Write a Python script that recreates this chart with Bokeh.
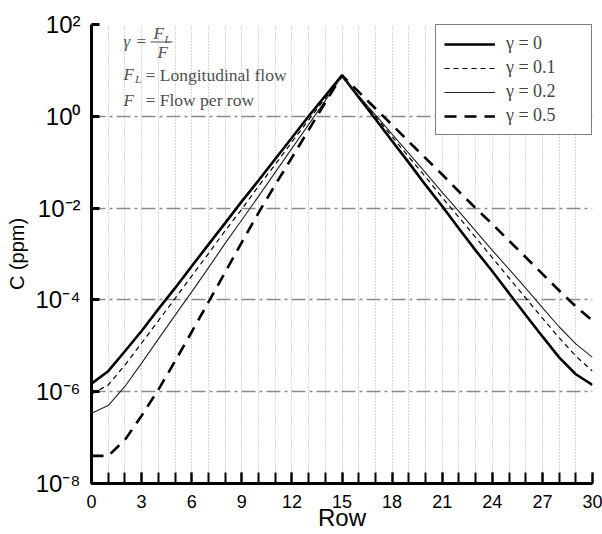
from bokeh.plotting import figure
from bokeh.models import FixedTicker, CustomJSTickFormatter, Legend, LegendItem, Range1d
from bokeh.core.properties import value
from bokeh.embed import file_html
from bokeh.resources import INLINE

# ---- data ----
rows = list(range(31))
c_gamma_0 = [1.5e-6, 2.8e-6, 7.6e-6, 2.1e-5, 6.3e-5, 1.8e-4, 5.4e-4, 1.6e-3, 4.7e-3, 1.4e-2,
             4.0e-2, 0.117, 0.34, 1.0, 2.8, 7.8,
             2.6, 0.87, 0.29, 0.098, 0.032, 0.011, 3.6e-3, 1.2e-3, 4.2e-4, 1.4e-4,
             4.7e-5, 1.6e-5, 5.6e-6, 2.4e-6, 1.4e-6]
c_gamma_01 = [8.9e-7, 1.4e-6, 3.8e-6, 1.15e-5, 3.5e-5, 1.07e-4, 3.3e-4, 1.02e-3, 3.2e-3, 9.5e-3,
              0.030, 0.089, 0.275, 0.83, 2.5, 7.7,
              2.75, 1.0, 0.36, 0.13, 0.048, 0.017, 6.3e-3, 2.3e-3, 8.3e-4, 3.0e-4,
              1.1e-4, 4.0e-5, 1.5e-5, 6.0e-6, 2.8e-6]
c_gamma_02 = [3.4e-7, 5.0e-7, 1.3e-6, 4.2e-6, 1.4e-5, 4.6e-5, 1.5e-4, 5.0e-4, 1.7e-3, 5.5e-3,
              0.018, 0.060, 0.20, 0.66, 2.2, 7.6,
              2.8, 1.07, 0.41, 0.155, 0.059, 0.022, 8.5e-3, 3.2e-3, 1.2e-3, 4.7e-4,
              1.8e-4, 6.8e-5, 2.6e-5, 1.1e-5, 5.6e-6]
c_gamma_05 = [4.0e-8, 4.0e-8, 8.9e-8, 3.0e-7, 1.1e-6, 4.6e-6, 2.0e-5, 8.9e-5, 4.0e-4, 1.8e-3,
              7.9e-3, 0.032, 0.126, 0.50, 2.0, 7.8,
              3.4, 1.48, 0.65, 0.28, 0.123, 0.054, 0.023, 0.010, 4.5e-3, 1.95e-3,
              8.5e-4, 3.7e-4, 1.6e-4, 7.2e-5, 3.5e-5]
series_labels = ["\u03b3 = 0", "\u03b3 = 0.1", "\u03b3 = 0.2", "\u03b3 = 0.5"]
x_major_ticks = [0, 3, 6, 9, 12, 15, 18, 21, 24, 27, 30]
y_major_ticks = [1e-8, 1e-6, 1e-4, 1e-2, 1e0, 1e2]

p = figure(width=602, height=534, y_axis_type="log",
           x_range=Range1d(0, 30), y_range=Range1d(1e-8, 1e2),
           output_backend="svg", toolbar_location=None, tools="",
           min_border_left=91, min_border_right=10, min_border_top=24, min_border_bottom=51)
p.outline_line_color = None
p.background_fill_color = "white"
p.border_fill_color = "white"

# grids
p.ygrid.grid_line_color = "#8a8a8a"
p.ygrid.grid_line_width = 1.3
p.ygrid.grid_line_dash = "14 4 3 4"
p.xgrid.ticker = FixedTicker(ticks=list(range(1, 31)))
p.xgrid.grid_line_color = "#b0b0b0"
p.xgrid.grid_line_width = 1
p.xgrid.grid_line_dash = "1 2"

# x axis
xa = p.xaxis[0]
xa.ticker = FixedTicker(ticks=x_major_ticks, minor_ticks=rows)
xa.axis_line_width = 3
xa.major_tick_in = 11
xa.major_tick_out = 0
xa.minor_tick_in = 11
xa.minor_tick_out = 0
xa.major_tick_line_width = 2
xa.minor_tick_line_width = 2
xa.major_label_text_font = "Liberation Sans"
xa.major_label_text_font_size = "18px"
xa.major_label_text_color = "black"
xa.major_label_standoff = 11
xa.axis_label = "Row"
xa.axis_label_text_font = "Liberation Sans"
xa.axis_label_text_font_size = "24px"
xa.axis_label_text_font_style = "normal"
xa.axis_label_text_color = "black"
xa.axis_label_standoff = -7

# y axis
ya = p.yaxis[0]
ya.ticker = FixedTicker(ticks=y_major_ticks, minor_ticks=[])
ya.formatter = CustomJSTickFormatter(code="""
const e = Math.round(Math.log10(tick));
const sup = {'-':'\u207b','0':'\u2070','1':'\u00b9','2':'\u00b2','3':'\u00b3','4':'\u2074',
             '5':'\u2075','6':'\u2076','7':'\u2077','8':'\u2078','9':'\u2079'};
return '10' + String(e).split('').map(c => sup[c]).join('');
""")
ya.axis_line_width = 3
ya.major_tick_in = 8
ya.major_tick_out = 0
ya.minor_tick_in = 0
ya.minor_tick_out = 0
ya.major_tick_line_width = 3
ya.major_label_text_font = "Liberation Sans"
ya.major_label_text_font_size = "24px"
ya.major_label_text_color = "black"
ya.major_label_standoff = 11
ya.axis_label = "C (ppm)"
ya.axis_label_text_font = "Liberation Sans"
ya.axis_label_text_font_size = "20px"
ya.axis_label_text_font_style = "normal"
ya.axis_label_text_color = "black"
ya.axis_label_standoff = 4

# curves
r0 = p.line(rows, c_gamma_0, line_color="black", line_width=2.6)
r1 = p.line(rows, c_gamma_01, line_color="black", line_width=1.2, line_dash="5 4")
r2 = p.line(rows, c_gamma_02, line_color="#222222", line_width=1.1)
r5 = p.line(rows, c_gamma_05, line_color="black", line_width=2.6, line_dash="12 8")

legend = Legend(items=[LegendItem(label=series_labels[0], renderers=[r0]),
                       LegendItem(label=series_labels[1], renderers=[r1]),
                       LegendItem(label=series_labels[2], renderers=[r2]),
                       LegendItem(label=series_labels[3], renderers=[r5])],
                location="top_right", margin=0, padding=8, spacing=3,
                glyph_width=51, glyph_height=20, label_height=20, label_width=77,
                label_standoff=11,
                label_text_font="Liberation Serif", label_text_font_size="18px",
                border_line_color="black", border_line_width=1.5,
                background_fill_color="white", background_fill_alpha=1.0)
p.add_layout(legend)

# annotation: definition of gamma (screen position converted to data coords)
ann_color = "#505050"
serif = value("Liberation Serif")
p.text(x=[1.916], y=[42.7], text=["\u03b3"], text_font=serif, text_font_size="17px",
       text_font_style="italic", text_color=ann_color, text_baseline="middle", text_align="left")
p.text(x=[2.695], y=[42.7], text=["="], text_font=serif, text_font_size="17px",
       text_color=ann_color, text_baseline="middle", text_align="left")
p.text(x=[3.713], y=[63.7], text=["F"], text_font=serif, text_font_size="17px",
       text_font_style="italic", text_color=ann_color, text_baseline="middle", text_align="left")
p.text(x=[4.371], y=[49.5], text=["L"], text_font=serif, text_font_size="11px",
       text_font_style="italic", text_color=ann_color, text_baseline="middle", text_align="left")
p.segment(x0=[3.533], x1=[4.85], y0=[41.6], y1=[41.6], line_color=ann_color, line_width=1)
p.text(x=[3.952], y=[24.5], text=["F"], text_font=serif, text_font_size="17px",
       text_font_style="italic", text_color=ann_color, text_baseline="middle", text_align="left")

p.text(x=[1.916], y=[8.14], text=["F"], text_font=serif, text_font_size="17px",
       text_font_style="italic", text_color=ann_color, text_baseline="middle", text_align="left")
p.text(x=[2.605], y=[6.34], text=["L"], text_font=serif, text_font_size="11px",
       text_font_style="italic", text_color=ann_color, text_baseline="middle", text_align="left")
p.text(x=[3.234], y=[8.14], text=["= Longitudinal flow"], text_font=serif, text_font_size="17.5px",
       text_color=ann_color, text_baseline="middle", text_align="left")

p.text(x=[1.916], y=[2.21], text=["F"], text_font=serif, text_font_size="17px",
       text_font_style="italic", text_color=ann_color, text_baseline="middle", text_align="left")
p.text(x=[3.234], y=[2.21], text=["= Flow per row"], text_font=serif, text_font_size="17.5px",
       text_color=ann_color, text_baseline="middle", text_align="left")

open("out.html", "w").write(file_html(p, INLINE))
